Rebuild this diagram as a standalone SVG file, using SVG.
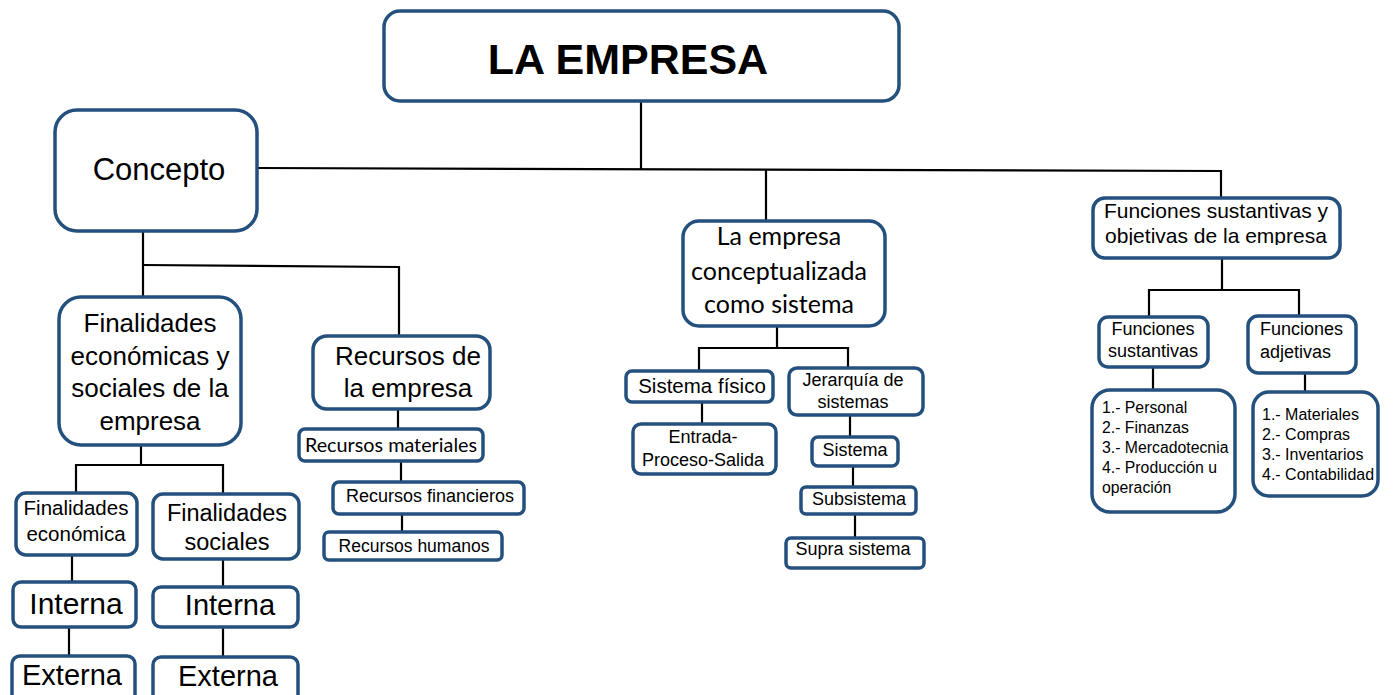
<svg xmlns="http://www.w3.org/2000/svg" width="1393" height="695" viewBox="0 0 1393 695">
<style>
.b{fill:#fff;stroke:#24507e;stroke-width:3.5}
.t{font-family:"Liberation Sans",Arial,sans-serif;fill:#000;text-anchor:middle}
.c{font-family:Lato,"Liberation Sans",sans-serif;fill:#000;text-anchor:middle}
.l{font-family:"Liberation Sans",Arial,sans-serif;fill:#000}
#connectors line,#connectors polyline{stroke:#000;stroke-width:2.2;fill:none}
</style>
<defs><clipPath id="cl"><rect x="1090" y="195" width="255" height="50"/></clipPath></defs>
<rect width="1393" height="695" fill="#fff"/>
<g id="connectors">
<line x1="641" y1="102" x2="641" y2="169"/>
<polyline points="257,168 1221,171 1221,198"/>
<line x1="766" y1="169" x2="766" y2="221"/>
<line x1="143" y1="231" x2="143" y2="297"/>
<polyline points="143,265 399,267 399,336"/>
<line x1="141" y1="445" x2="141" y2="465"/>
<polyline points="76,493 76,465 223,465 223,494"/>
<line x1="72" y1="555" x2="72" y2="582"/>
<line x1="69" y1="627" x2="69" y2="656"/>
<line x1="223" y1="559" x2="223" y2="587"/>
<line x1="223" y1="627" x2="223" y2="657"/>
<line x1="398" y1="409" x2="398" y2="429"/>
<line x1="401" y1="461" x2="401" y2="482"/>
<line x1="402" y1="514" x2="402" y2="532"/>
<line x1="777" y1="326" x2="777" y2="348"/>
<polyline points="699,371 699,348 848,348 848,368"/>
<line x1="702" y1="402" x2="702" y2="424"/>
<line x1="850" y1="415" x2="850" y2="437"/>
<line x1="853" y1="466" x2="853" y2="487"/>
<line x1="855" y1="514" x2="855" y2="538"/>
<line x1="1222" y1="258" x2="1222" y2="290"/>
<polyline points="1149,317 1149,290 1299,290 1299,316"/>
<line x1="1153" y1="367" x2="1153" y2="390"/>
<line x1="1305" y1="373" x2="1305" y2="392"/>
</g>
<g id="n-empresa"><rect class="b" x="384" y="11" width="515" height="90" rx="16" stroke-width="4"/><text class="t" x="628" y="74" font-size="43" font-weight="bold">LA EMPRESA</text></g>
<g id="n-concepto"><rect class="b" x="55" y="110" width="202" height="121" rx="22" stroke-width="4"/><text class="t" x="159" y="180" font-size="31">Concepto</text></g>
<g id="n-finalidades"><rect class="b" x="59" y="297" width="182" height="148" rx="22" stroke-width="4"/><text class="t" x="150" y="332" font-size="26"><tspan x="150">Finalidades</tspan><tspan x="150" y="365">económicas y</tspan><tspan x="150" y="397">sociales de la</tspan><tspan x="150" y="430">empresa</tspan></text></g>
<g id="n-fin-eco"><rect class="b" x="16" y="493" width="121" height="62" rx="10"/><text class="t" x="76" y="515" font-size="20.5"><tspan x="76">Finalidades</tspan><tspan x="76" y="541">económica</tspan></text></g>
<g id="n-fin-soc"><rect class="b" x="153" y="494" width="146" height="65" rx="10"/><text class="t" x="227" y="521" font-size="23.5"><tspan x="227">Finalidades</tspan><tspan x="227" y="550">sociales</tspan></text></g>
<g id="n-int1"><rect class="b" x="13" y="582" width="123" height="45" rx="8"/><text class="t" x="76" y="614" font-size="30">Interna</text></g>
<g id="n-ext1"><rect class="b" x="12" y="656" width="123" height="50" rx="8"/><text class="t" x="72" y="685" font-size="29">Externa</text></g>
<g id="n-int2"><rect class="b" x="153" y="587" width="145" height="40" rx="8"/><text class="t" x="230" y="615" font-size="29">Interna</text></g>
<g id="n-ext2"><rect class="b" x="153" y="657" width="145" height="50" rx="8"/><text class="t" x="228" y="686" font-size="29">Externa</text></g>
<g id="n-recursos"><rect class="b" x="313" y="336" width="177" height="73" rx="14" stroke-width="4"/><text class="t" x="408" y="365" font-size="26"><tspan x="408">Recursos de</tspan><tspan x="408" y="397">la empresa</tspan></text></g>
<g id="n-rmat"><rect class="b" x="299" y="429" width="184" height="32" rx="6"/><text class="c" x="391" y="452" font-size="19.8">Recursos materiales</text></g>
<g id="n-rfin"><rect class="b" x="333" y="482" width="191" height="32" rx="6"/><text class="t" x="430" y="502" font-size="18">Recursos financieros</text></g>
<g id="n-rhum"><rect class="b" x="324" y="532" width="178" height="28" rx="5"/><text class="t" x="414" y="552" font-size="17.5">Recursos humanos</text></g>
<g id="n-sistema"><rect class="b" x="683" y="221" width="202" height="105" rx="16" stroke-width="4"/><text class="c" x="779" y="245" font-size="25"><tspan x="779">La empresa</tspan><tspan x="779" y="280">conceptualizada</tspan><tspan x="779" y="313">como sistema</tspan></text></g>
<g id="n-sfis"><rect class="b" x="626" y="371" width="147" height="31" rx="6"/><text class="t" x="702" y="393" font-size="20.5">Sistema físico</text></g>
<g id="n-eps"><rect class="b" x="633" y="424" width="143" height="50" rx="8"/><text class="t" x="703" y="443" font-size="18"><tspan x="703">Entrada-</tspan><tspan x="703" y="466">Proceso-Salida</tspan></text></g>
<g id="n-jer"><rect class="b" x="789" y="368" width="134" height="47" rx="8"/><text class="t" x="853" y="386" font-size="18"><tspan x="853">Jerarquía de</tspan><tspan x="853" y="408">sistemas</tspan></text></g>
<g id="n-sis"><rect class="b" x="812" y="437" width="86" height="29" rx="6"/><text class="t" x="855" y="456" font-size="18">Sistema</text></g>
<g id="n-sub"><rect class="b" x="801" y="487" width="115" height="27" rx="5"/><text class="t" x="859" y="505" font-size="18">Subsistema</text></g>
<g id="n-supra"><rect class="b" x="786" y="538" width="138" height="30" rx="5"/><text class="t" x="853" y="555" font-size="18">Supra sistema</text></g>
<g id="n-funciones"><rect class="b" x="1093" y="198" width="247" height="60" rx="12"/><text class="t" x="1216" y="218" font-size="21" clip-path="url(#cl)"><tspan x="1216">Funciones sustantivas y</tspan><tspan x="1216" y="243">objetivas de la empresa</tspan></text></g>
<g id="n-fsus"><rect class="b" x="1099" y="317" width="109" height="50" rx="9"/><text class="t" x="1153" y="335" font-size="18"><tspan x="1153">Funciones</tspan><tspan x="1153" y="357">sustantivas</tspan></text></g>
<g id="n-fadj"><rect class="b" x="1248" y="316" width="108" height="57" rx="10"/><text class="l" x="1260" y="335" font-size="18"><tspan x="1260">Funciones</tspan><tspan x="1260" y="358">adjetivas</tspan></text></g>
<g id="n-lsus"><rect class="b" x="1092" y="390" width="143" height="122" rx="18"/><text class="l" x="1102" y="413" font-size="15.8"><tspan x="1102">1.- Personal</tspan><tspan x="1102" y="433">2.- Finanzas</tspan><tspan x="1102" y="453">3.- Mercadotecnia</tspan><tspan x="1102" y="473">4.- Producción u</tspan><tspan x="1102" y="493">operación</tspan></text></g>
<g id="n-ladj"><rect class="b" x="1253" y="392" width="125" height="104" rx="16"/><text class="l" x="1262" y="420" font-size="16"><tspan x="1262">1.- Materiales</tspan><tspan x="1262" y="440">2.- Compras</tspan><tspan x="1262" y="460">3.- Inventarios</tspan><tspan x="1262" y="480">4.- Contabilidad</tspan></text></g>
</svg>
